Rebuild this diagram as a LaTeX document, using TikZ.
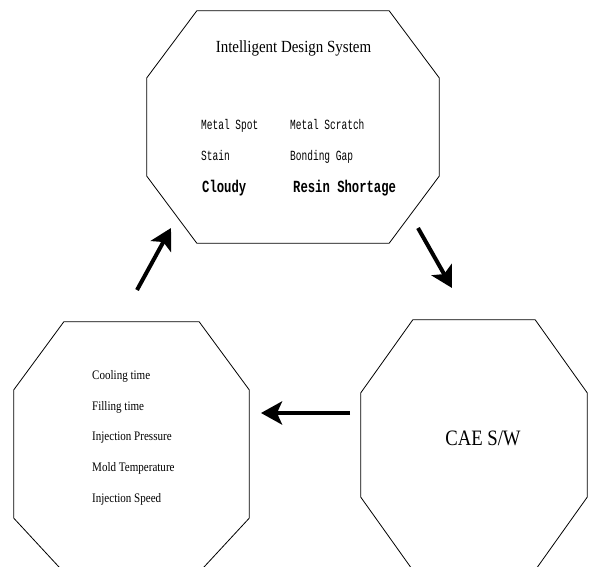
\documentclass[tikz,border=0pt]{standalone}
\usepackage{fontspec}
\setmainfont{Liberation Serif}
\newfontfamily\titlefont[FakeStretch=0.88]{Liberation Serif}
\newfontfamily\listfont[FakeStretch=0.85]{Liberation Serif}
\newfontfamily\monofont[FakeStretch=0.68]{Liberation Mono}
\newfontfamily\monoboldfont[FakeStretch=0.72]{Liberation Mono Bold}
\usetikzlibrary{arrows.meta}
\tikzset{
  octabox/.style={rectangle, inner sep=0pt},
  octaline/.style={line width=0.8pt, line join=round},
  flowarrow/.style={line width=4pt, -{Stealth[length=21pt,width=23pt,inset=5pt]}},
  defect/.style={anchor=base west, inner sep=0pt, font=\monofont\fontsize{14}{16}\selectfont},
  defectbig/.style={anchor=base west, inner sep=0pt, font=\monoboldfont\fontsize{17}{19}\selectfont},
  param/.style={anchor=base west, inner sep=0pt, font=\listfont\fontsize{13}{15}\selectfont},
}
\newcommand\octagon[4]{% node, xsep, top ysep, bottom ysep
  \draw[octaline] ([xshift=#2]#1.north west) -- ([xshift=-#2]#1.north east)
    -- ([yshift=-#3]#1.north east) -- ([yshift=#4]#1.south east)
    -- ([xshift=-#2]#1.south east) -- ([xshift=#2]#1.south west)
    -- ([yshift=#4]#1.south west) -- ([yshift=-#3]#1.north west) -- cycle;}
\begin{document}
\begin{tikzpicture}[x=1pt,y=-1pt]
\useasboundingbox (0,0) rectangle (590,567);
\clip (0,0) rectangle (590,567);
% octagons
\node[octabox, minimum width=292pt, minimum height=232pt] (ids) at (293,127) {};
\node[octabox, minimum width=235pt, minimum height=250pt] (proc) at (131.5,447) {};
\node[octabox, minimum width=226pt, minimum height=250pt] (cae) at (474,445) {};
\octagon{ids}{50pt}{67pt}{67pt}
\octagon{proc}{50pt}{68pt}{54pt}
\octagon{cae}{52pt}{73pt}{73pt}
% texts
\node[anchor=base, inner sep=0pt, font=\titlefont\fontsize{17}{19}\selectfont] (title) at (293.5,53) {Intelligent Design System};
\node[defect] (d1) at (201,130) {Metal Spot};
\node[defect] (d2) at (290,130) {Metal Scratch};
\node[defect] (d3) at (201,161) {Stain};
\node[defect] (d4) at (290,161) {Bonding Gap};
\node[defectbig] (d5) at (202,193) {Cloudy};
\node[defectbig] (d6) at (293,193) {Resin Shortage};
\node[param] (p1) at (92,380) {Cooling time};
\node[param] (p2) at (92,410) {Filling time};
\node[param] (p3) at (92,440) {Injection Pressure};
\node[param] (p4) at (92,471) {Mold Temperature};
\node[param] (p5) at (92,502) {Injection Speed};
\node[anchor=base, inner sep=0pt, font=\listfont\fontsize{22}{24}\selectfont] (caetxt) at (483,445) {CAE S/W};
% arrows
\coordinate (a1s) at (137,290); \coordinate (a1e) at (171,228);
\coordinate (a2s) at (418,228); \coordinate (a2e) at (452,288);
\coordinate (a3s) at (350,413); \coordinate (a3e) at (261,413);
\draw[flowarrow] (a1s) -- (a1e);
\draw[flowarrow] (a2s) -- (a2e);
\draw[flowarrow] (a3s) -- (a3e);
\end{tikzpicture}
\end{document}
